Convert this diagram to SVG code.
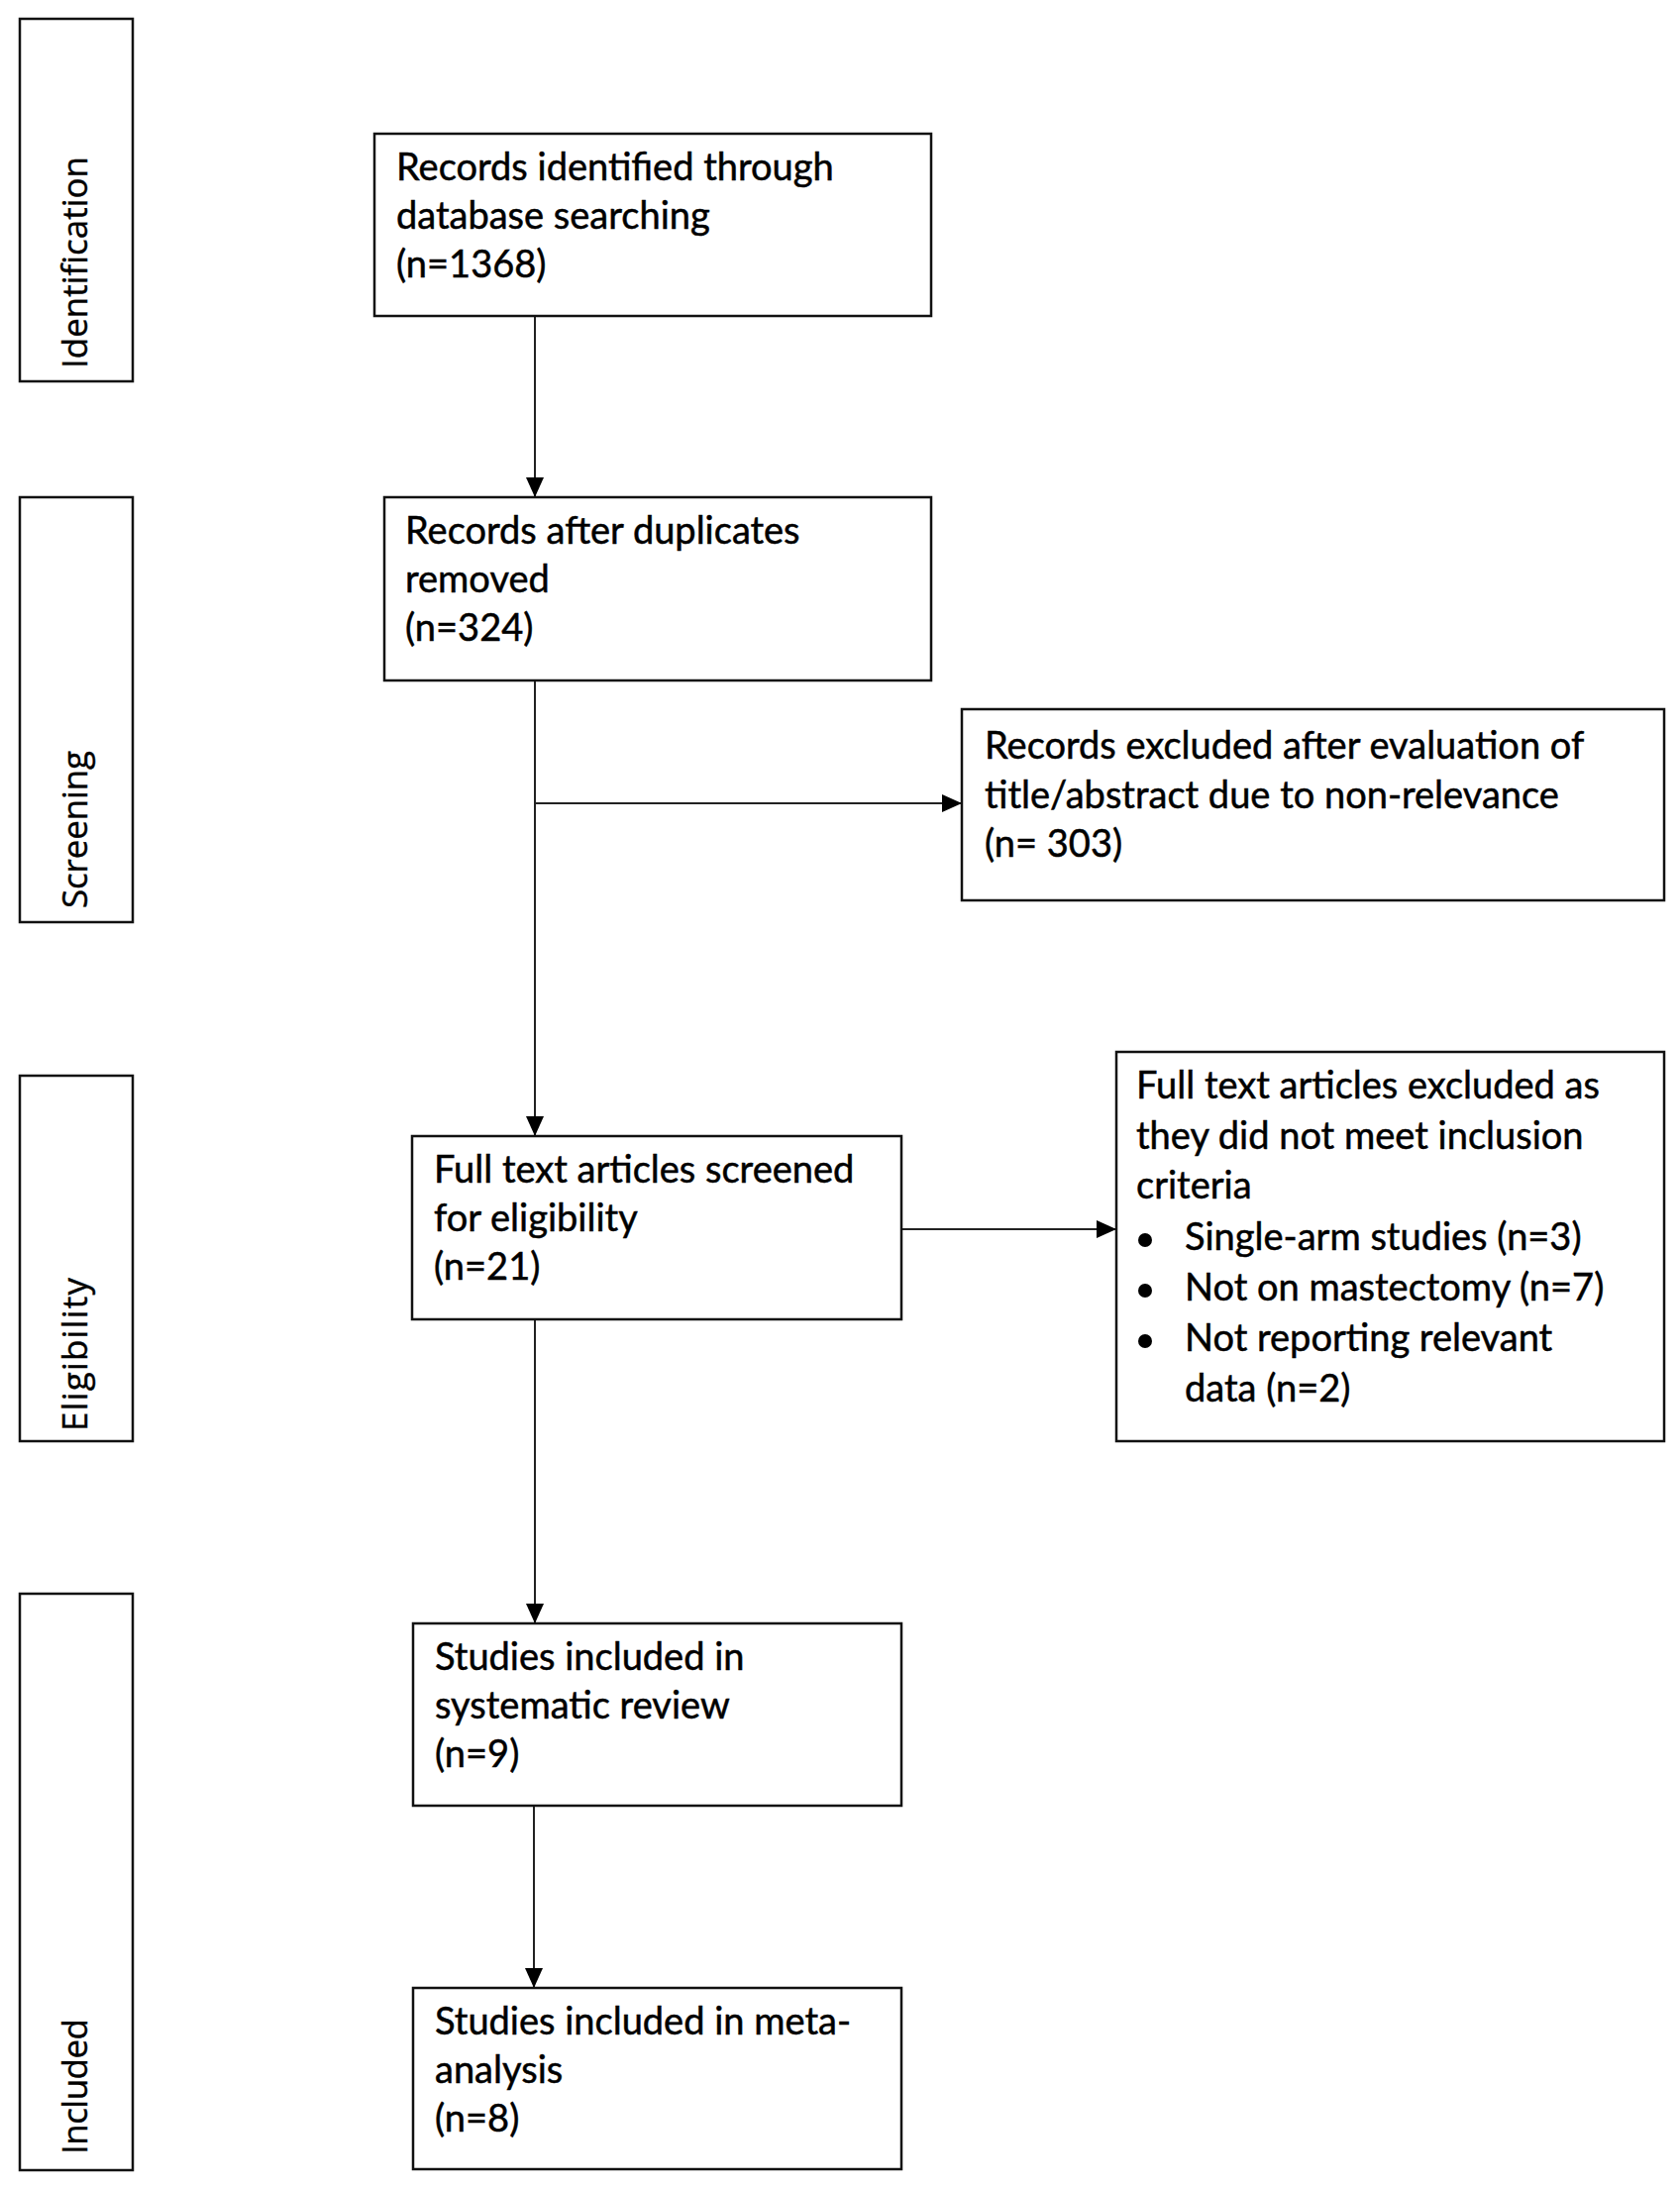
<svg xmlns="http://www.w3.org/2000/svg" width="1696" height="2209" viewBox="0 0 1696 2209">
<style>
.box{fill:#fff;stroke:#111;stroke-width:2.5}
.side{font-family:"Open Sans","DejaVu Sans",sans-serif;font-size:35px;fill:#000;stroke:#000;stroke-width:0.4}
.t{font-family:Lato,"Open Sans",sans-serif;font-size:38px;fill:#000;stroke:#000;stroke-width:0.5}
.ln{fill:none;stroke:#222;stroke-width:2}
</style>
<defs>
<marker id="ah" viewBox="0 0 20 18" refX="20" refY="9" markerWidth="20" markerHeight="18" markerUnits="userSpaceOnUse" orient="auto">
<path d="M0,0 L20,9 L0,18 z" fill="#000"/>
</marker>
</defs>
<rect width="1696" height="2209" fill="#fff"/>
<g id="stage-identification">
<rect class="box" x="20" y="19" width="114" height="366"/>
<text class="side" transform="translate(88,372) rotate(-90)" textLength="214">Identification</text>
</g>
<g id="stage-screening">
<rect class="box" x="20" y="502" width="114" height="429"/>
<text class="side" transform="translate(88,917) rotate(-90)" textLength="159">Screening</text>
</g>
<g id="stage-eligibility">
<rect class="box" x="20" y="1086" width="114" height="369"/>
<text class="side" transform="translate(88,1445) rotate(-90)" textLength="155">Eligibility</text>
</g>
<g id="stage-included">
<rect class="box" x="20" y="1609" width="114" height="582"/>
<text class="side" transform="translate(88,2175) rotate(-90)" textLength="137">Included</text>
</g>
<g id="connectors">
<path class="ln" d="M540,319 V502" marker-end="url(#ah)"/>
<path class="ln" d="M540,687 V1147" marker-end="url(#ah)"/>
<path class="ln" d="M540,811 H971" marker-end="url(#ah)"/>
<path class="ln" d="M910,1241 H1127" marker-end="url(#ah)"/>
<path class="ln" d="M540,1332 V1639" marker-end="url(#ah)"/>
<path class="ln" d="M539,1823 V2007" marker-end="url(#ah)"/>
</g>
<g id="records-identified">
<rect class="box" x="378" y="135" width="562" height="184"/>
<text class="t" x="400" y="182">Records identified through</text>
<text class="t" x="400" y="231">database searching</text>
<text class="t" x="400" y="280">(n=1368)</text>
</g>
<g id="records-after-duplicates">
<rect class="box" x="388" y="502" width="552" height="185"/>
<text class="t" x="409" y="549">Records after duplicates</text>
<text class="t" x="409" y="598">removed</text>
<text class="t" x="409" y="647">(n=324)</text>
</g>
<g id="records-excluded">
<rect class="box" x="971" y="716" width="709" height="193"/>
<text class="t" x="994" y="766">Records excluded after evaluation of</text>
<text class="t" x="994" y="816">title/abstract due to non-relevance</text>
<text class="t" x="994" y="865">(n= 303)</text>
</g>
<g id="full-text-screened">
<rect class="box" x="416" y="1147" width="494" height="185"/>
<text class="t" x="438" y="1194">Full text articles screened</text>
<text class="t" x="438" y="1243">for eligibility</text>
<text class="t" x="438" y="1292">(n=21)</text>
</g>
<g id="full-text-excluded">
<rect class="box" x="1127" y="1062" width="553" height="393"/>
<text class="t" x="1147" y="1109">Full text articles excluded as</text>
<text class="t" x="1147" y="1160">they did not meet inclusion</text>
<text class="t" x="1147" y="1210">criteria</text>
<circle cx="1156" cy="1252" r="7" fill="#000"/>
<text class="t" x="1196" y="1262">Single-arm studies (n=3)</text>
<circle cx="1156" cy="1303" r="7" fill="#000"/>
<text class="t" x="1196" y="1313">Not on mastectomy (n=7)</text>
<circle cx="1156" cy="1354" r="7" fill="#000"/>
<text class="t" x="1196" y="1364">Not reporting relevant</text>
<text class="t" x="1196" y="1415">data (n=2)</text>
</g>
<g id="systematic-review">
<rect class="box" x="417" y="1639" width="493" height="184"/>
<text class="t" x="439" y="1686">Studies included in</text>
<text class="t" x="439" y="1735">systematic review</text>
<text class="t" x="439" y="1784">(n=9)</text>
</g>
<g id="meta-analysis">
<rect class="box" x="417" y="2007" width="493" height="183"/>
<text class="t" x="439" y="2054">Studies included in meta-</text>
<text class="t" x="439" y="2103">analysis</text>
<text class="t" x="439" y="2152">(n=8)</text>
</g>
</svg>
